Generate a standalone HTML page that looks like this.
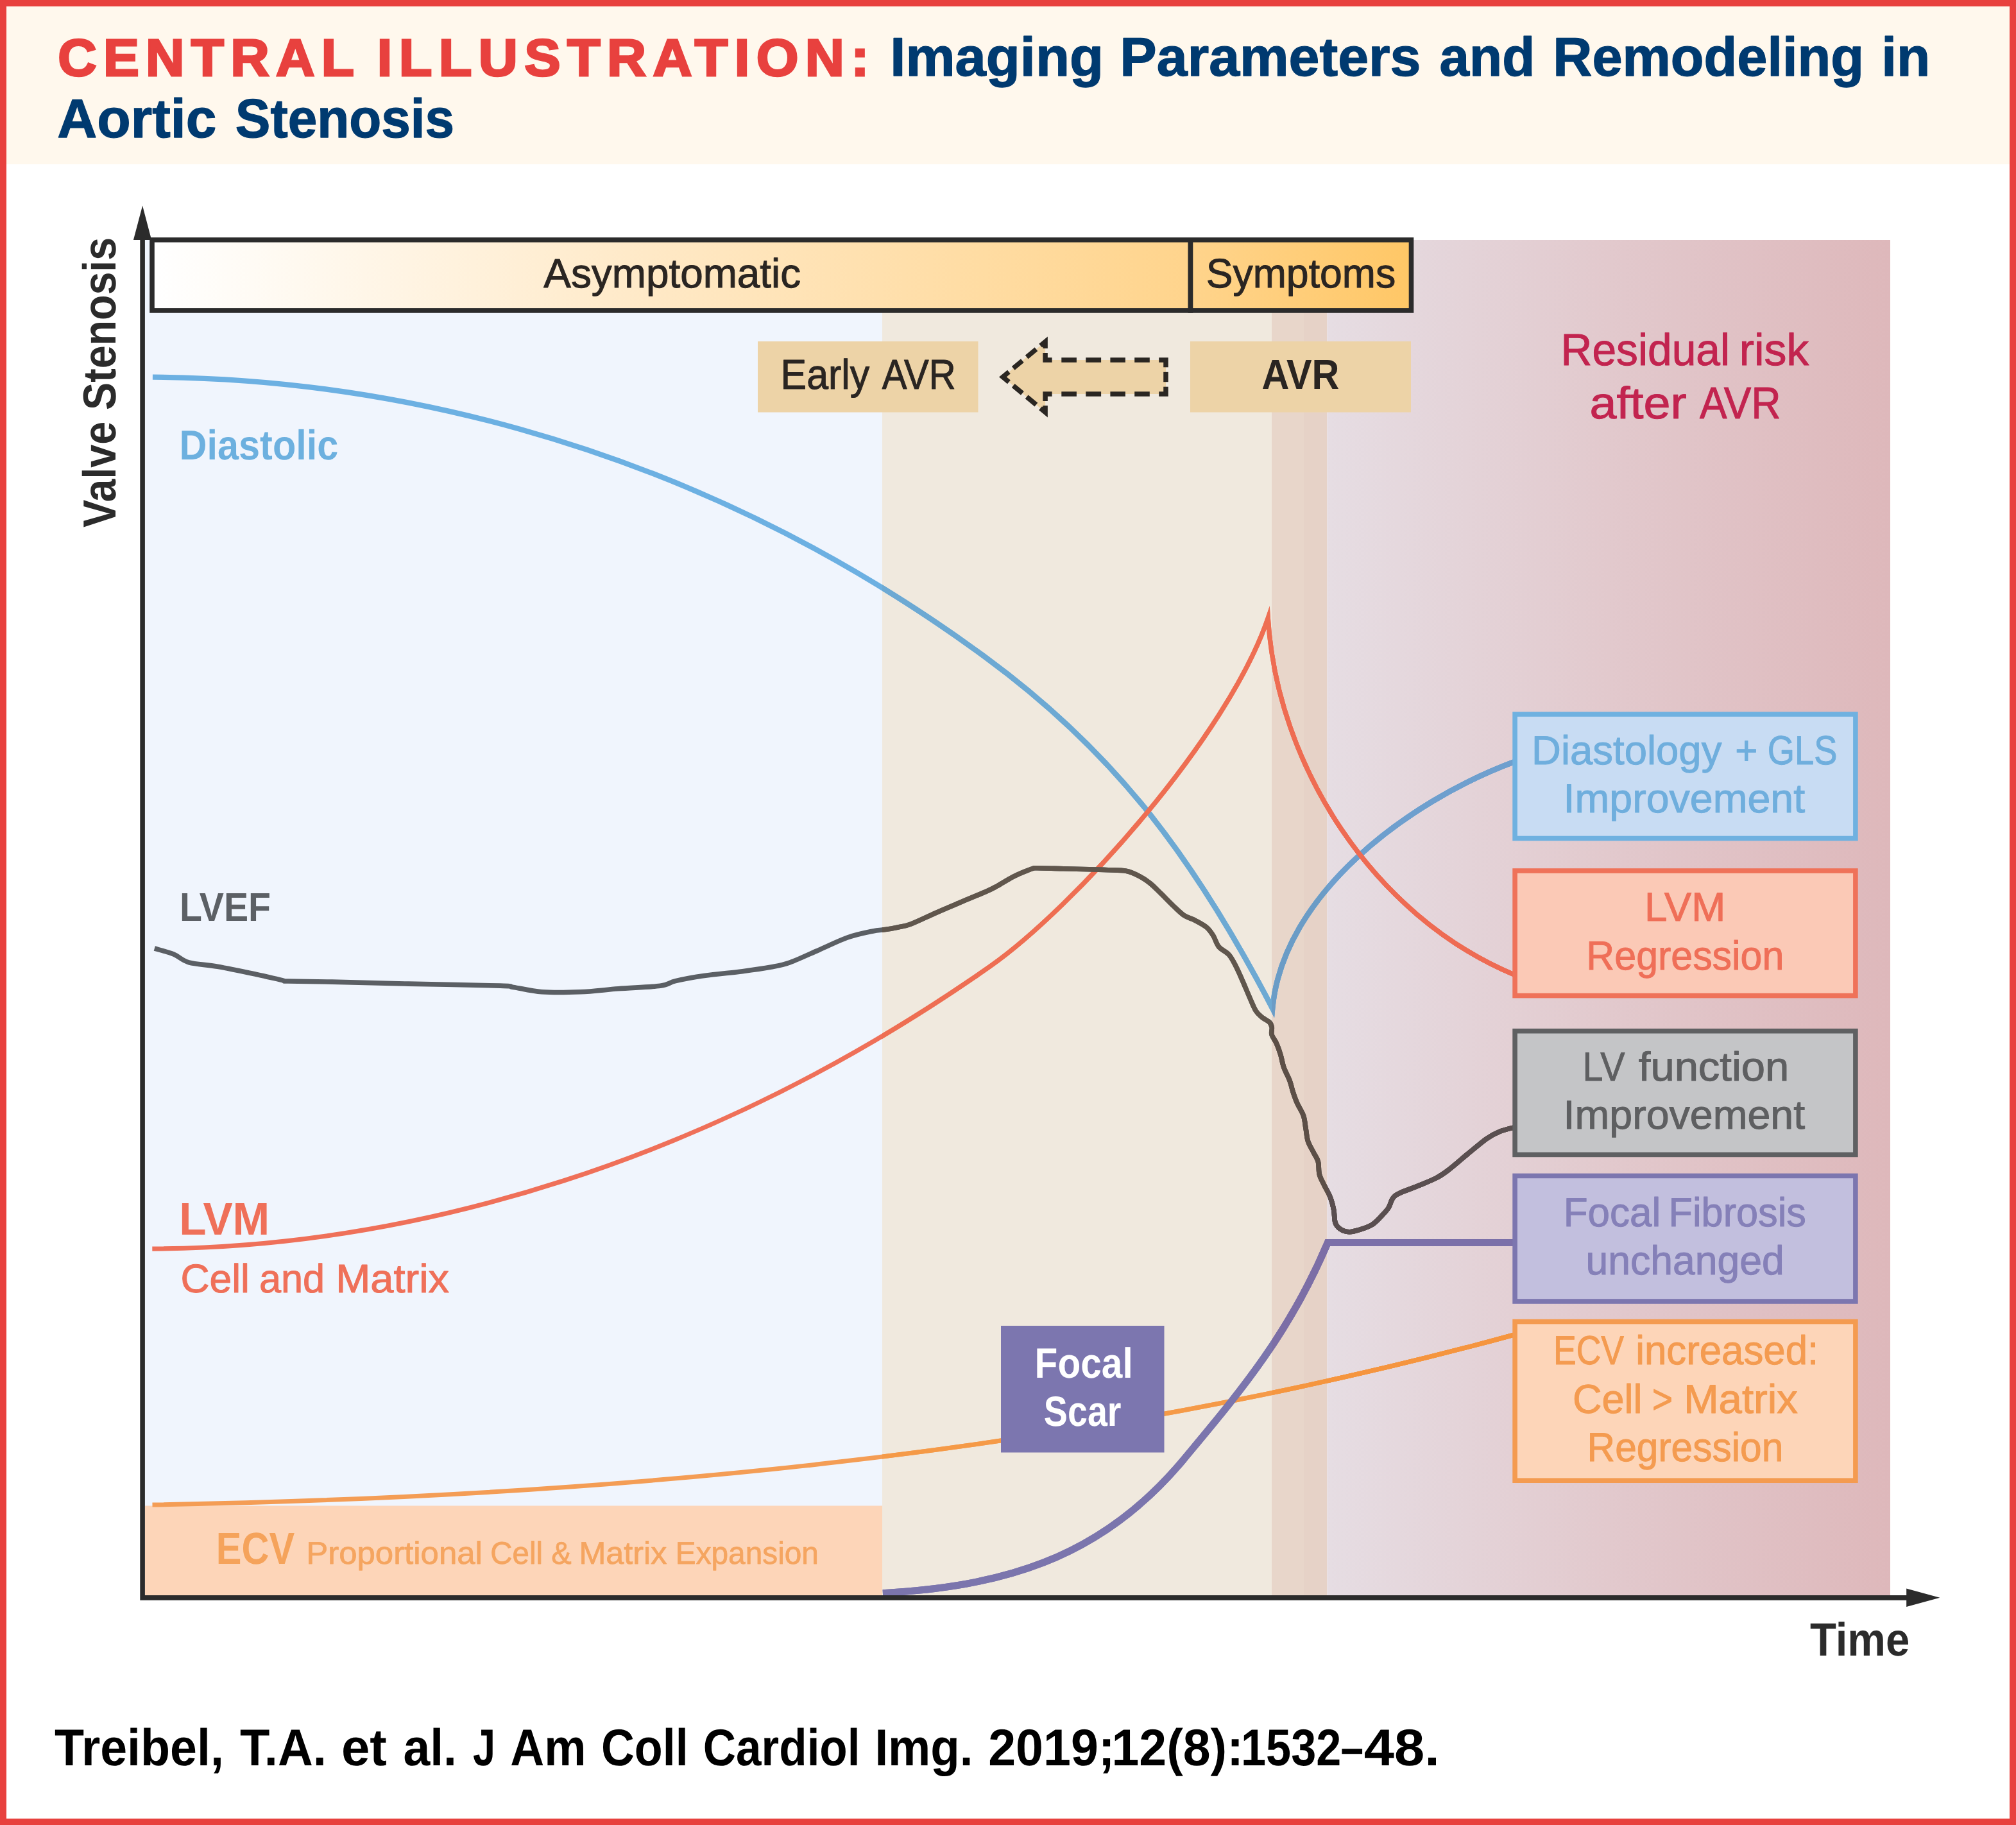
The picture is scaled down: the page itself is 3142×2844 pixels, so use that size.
<!DOCTYPE html>
<html><head><meta charset="utf-8"><title>Central Illustration: Imaging Parameters and Remodeling in Aortic Stenosis</title>
<style>html,body{margin:0;padding:0;background:#fff}svg{display:block}text{font-family:"Liberation Sans",Arial,sans-serif;white-space:pre;text-rendering:geometricPrecision}</style>
</head><body>
<svg width="3142" height="2844" viewBox="0 0 3142 2844">
<defs>
<linearGradient id="gAsym" x1="0" x2="1" y1="0" y2="0"><stop offset="0" stop-color="#ffffff"/><stop offset="0.12" stop-color="#fffaf2"/><stop offset="0.5" stop-color="#ffe8c4"/><stop offset="1" stop-color="#ffd48c"/></linearGradient>
<linearGradient id="gSym" x1="0" x2="1" y1="0" y2="0"><stop offset="0" stop-color="#ffd48c"/><stop offset="1" stop-color="#ffc766"/></linearGradient>
<linearGradient id="gPink" x1="0" x2="1" y1="0" y2="0"><stop offset="0" stop-color="#e6dde3"/><stop offset="0.5" stop-color="#e2c9cd"/><stop offset="1" stop-color="#deb8bb"/></linearGradient>
<clipPath id="cA"><rect x="0" y="0" width="3142" height="2844"/></clipPath>
<clipPath id="cB"><rect x="1375" y="0" width="1800" height="2844"/></clipPath>
<clipPath id="cC"><rect x="1982" y="0" width="1200" height="2844"/></clipPath>
<clipPath id="cD"><rect x="2068.5" y="0" width="1100" height="2844"/></clipPath>
</defs>
<rect x="0" y="0" width="3142" height="2844" fill="#ffffff"/>
<rect x="10" y="10" width="3122" height="246" fill="#fff8ed"/>
<rect x="226" y="374" width="1149" height="2112" fill="#f0f5fd"/>
<rect x="1375" y="374" width="607" height="2112" fill="#f0e9de"/>
<rect x="1982" y="374" width="50" height="2112" fill="#e8d6ca"/>
<rect x="2032" y="374" width="36.5" height="2112" fill="#e6d2c7"/>
<rect x="2068.5" y="374" width="877.5" height="2112" fill="url(#gPink)"/>
<rect x="226" y="2346.5" width="1149" height="140" fill="#fdd5b8"/>
<defs><path id="pEcv" d="M237.5,2345.0 C941.8,2332.8 1674.7,2267.7 2360.0,2080.0" fill="none" stroke-width="7"/></defs>
<use href="#pEcv" stroke="#f49d55" clip-path="url(#cA)"/>
<use href="#pEcv" stroke="#f59a47" clip-path="url(#cB)"/>
<use href="#pEcv" stroke="#f5963f" clip-path="url(#cC)"/>
<use href="#pEcv" stroke="#f5953f" clip-path="url(#cD)"/>
<defs><path id="pDia" d="M237.9,587.6 C536.8,589.8 1034.9,656.7 1536.0,1024.3 C1732.0,1168.1 1856.7,1328.5 1983.2,1571.5 C1999.7,1393.8 2193.5,1249.2 2360.0,1187.2" fill="none" stroke-width="8.3" stroke-linejoin="miter" stroke-miterlimit="6"/></defs>
<use href="#pDia" stroke="#6cb0e2" clip-path="url(#cA)"/>
<use href="#pDia" stroke="#6da9d3" clip-path="url(#cB)"/>
<use href="#pDia" stroke="#6b9cc6" clip-path="url(#cC)"/>
<use href="#pDia" stroke="#6e9fce" clip-path="url(#cD)"/>
<defs><path id="pLvm" d="M237.3,1946.1 C642.5,1943.7 1106.3,1812.3 1543.1,1505.9 C1673.0,1414.8 1912.9,1148.9 1976.3,963.0 C1989.9,1192.2 2140.1,1427.3 2360.0,1519.0" fill="none" stroke-width="7.2" stroke-linejoin="miter" stroke-miterlimit="6"/></defs>
<use href="#pLvm" stroke="#ef7059" clip-path="url(#cA)"/>
<use href="#pLvm" stroke="#ee6e52" clip-path="url(#cB)"/>
<use href="#pLvm" stroke="#ee6c52" clip-path="url(#cC)"/>
<use href="#pLvm" stroke="#ee6b53" clip-path="url(#cD)"/>
<defs><path id="pLvef" d="M240.8,1478.0 C245.8,1479.5 261.7,1483.4 270.6,1487.0 C279.5,1490.6 283.0,1496.6 294.4,1499.8 C305.8,1503.0 321.6,1503.2 339.0,1506.3 C356.4,1509.4 381.8,1514.7 398.6,1518.2 C415.4,1521.8 431.6,1525.8 440.0,1527.6 C448.4,1529.4 436.1,1528.6 449.0,1529.0 C461.9,1529.4 486.3,1529.4 517.6,1530.1 C548.9,1530.8 593.1,1532.1 636.7,1533.1 C680.4,1534.1 752.3,1535.2 779.5,1536.1 C806.7,1537.0 789.1,1536.8 800.0,1538.4 C810.9,1540.0 827.2,1544.6 844.6,1545.8 C862.0,1547.0 884.4,1546.6 904.2,1545.8 C924.1,1545.0 942.9,1542.4 963.7,1540.8 C984.5,1539.2 1014.3,1538.3 1029.2,1536.3 C1044.1,1534.3 1041.6,1531.2 1053.0,1528.6 C1064.4,1526.0 1080.2,1523.0 1097.6,1520.5 C1114.9,1518.0 1139.7,1515.9 1157.1,1513.7 C1174.5,1511.5 1189.4,1509.4 1201.8,1507.1 C1214.2,1504.8 1219.1,1504.2 1231.5,1499.7 C1243.9,1495.2 1261.3,1486.9 1276.2,1480.4 C1291.1,1474.0 1306.9,1465.9 1320.8,1461.0 C1334.7,1456.1 1349.6,1453.3 1359.5,1451.2 C1369.4,1449.1 1373.3,1449.6 1380.0,1448.6 C1386.7,1447.6 1393.2,1446.4 1399.8,1445.0 C1406.4,1443.6 1409.8,1443.8 1419.7,1440.0 C1429.6,1436.2 1446.2,1428.0 1459.4,1422.2 C1472.6,1416.4 1485.8,1410.9 1499.0,1405.3 C1512.2,1399.7 1529.4,1392.6 1538.7,1388.5 C1548.0,1384.4 1548.0,1384.2 1554.6,1380.5 C1561.2,1376.8 1571.1,1370.4 1578.4,1366.6 C1585.7,1362.8 1593.0,1359.9 1598.3,1357.7 C1603.6,1355.5 1607.0,1354.2 1610.0,1353.4 C1613.0,1352.6 1608.0,1352.8 1616.0,1352.8 C1624.0,1352.8 1644.2,1353.4 1657.8,1353.7 C1671.4,1354.0 1685.9,1354.4 1697.5,1354.7 C1709.1,1355.0 1717.6,1355.3 1727.2,1355.7 C1736.8,1356.1 1747.0,1355.7 1755.0,1357.3 C1763.0,1358.9 1768.8,1361.9 1775.1,1365.1 C1781.4,1368.3 1786.8,1371.8 1792.6,1376.5 C1798.4,1381.2 1804.2,1387.4 1810.1,1393.1 C1815.9,1398.8 1821.8,1405.2 1827.7,1410.7 C1833.6,1416.2 1839.4,1422.5 1845.2,1426.4 C1851.0,1430.3 1856.9,1431.2 1862.7,1434.3 C1868.5,1437.4 1875.6,1441.0 1880.3,1444.9 C1885.0,1448.9 1887.6,1452.9 1890.8,1458.0 C1894.0,1463.1 1895.5,1470.5 1899.6,1475.5 C1903.7,1480.5 1910.9,1482.8 1915.3,1487.8 C1919.7,1492.8 1922.4,1498.6 1925.9,1505.3 C1929.4,1512.0 1932.9,1520.2 1936.4,1528.1 C1939.9,1536.0 1943.4,1544.8 1946.9,1552.7 C1950.4,1560.6 1953.9,1570.0 1957.4,1575.5 C1960.9,1581.0 1964.4,1583.1 1967.9,1586.0 C1971.4,1588.9 1976.1,1590.5 1978.5,1593.0 C1980.9,1595.5 1981.6,1597.8 1982.2,1601.0 C1982.8,1604.2 1980.8,1608.3 1982.0,1612.5 C1983.2,1616.7 1987.1,1620.7 1989.4,1625.9 C1991.7,1631.1 1993.9,1637.3 1995.8,1643.5 C1997.7,1649.7 1998.5,1656.7 2000.8,1663.3 C2003.1,1669.9 2007.2,1676.6 2009.7,1683.2 C2012.2,1689.8 2013.6,1697.0 2015.6,1703.0 C2017.6,1709.0 2018.9,1713.0 2021.6,1718.9 C2024.2,1724.9 2029.2,1732.1 2031.5,1738.7 C2033.8,1745.3 2033.9,1752.0 2035.1,1758.6 C2036.3,1765.2 2036.5,1772.1 2038.5,1778.4 C2040.5,1784.7 2044.8,1791.0 2047.4,1796.3 C2050.0,1801.6 2052.8,1804.6 2054.3,1810.2 C2055.8,1815.8 2054.8,1824.0 2056.3,1830.0 C2057.8,1836.0 2060.5,1840.0 2063.3,1845.9 C2066.1,1851.9 2070.6,1859.1 2073.2,1865.7 C2075.8,1872.3 2077.4,1879.0 2078.7,1885.6 C2080.0,1892.2 2079.4,1900.5 2081.1,1905.4 C2082.8,1910.4 2085.4,1912.9 2089.0,1915.3 C2092.6,1917.7 2097.9,1919.5 2102.9,1919.7 C2107.9,1919.9 2112.8,1918.2 2118.8,1916.3 C2124.8,1914.4 2132.8,1912.2 2138.7,1908.4 C2144.6,1904.6 2150.2,1898.0 2154.5,1893.5 C2158.8,1889.0 2161.8,1885.9 2164.4,1881.6 C2167.1,1877.3 2167.8,1871.3 2170.4,1867.7 C2173.1,1864.1 2174.0,1863.0 2180.3,1859.8 C2186.6,1856.6 2198.5,1852.8 2208.1,1848.8 C2217.7,1844.8 2229.6,1840.3 2237.9,1836.0 C2246.2,1831.7 2249.4,1829.4 2257.7,1823.1 C2266.0,1816.8 2277.6,1806.4 2287.5,1798.3 C2297.4,1790.2 2308.9,1780.2 2317.2,1774.4 C2325.5,1768.6 2330.0,1766.4 2337.1,1763.5 C2344.2,1760.6 2356.2,1757.9 2360.0,1756.8" fill="none" stroke-width="7.6" stroke-linejoin="round"/></defs>
<use href="#pLvef" stroke="#5b5f64" clip-path="url(#cA)"/>
<use href="#pLvef" stroke="#60564c" clip-path="url(#cB)"/>
<use href="#pLvef" stroke="#5c4f47" clip-path="url(#cC)"/>
<use href="#pLvef" stroke="#5a4f50" clip-path="url(#cD)"/>
<defs><path id="pPur" d="M1375.9,2482.6 C1552.9,2472.3 1711.1,2435.0 1844.5,2274.7 C1926.4,2176.2 2007.7,2082.6 2069.3,1936.4 H2360" fill="none" stroke-width="10.9" stroke-linejoin="miter"/></defs>
<use href="#pPur" stroke="#7b76ae" clip-path="url(#cA)"/>
<use href="#pPur" stroke="#7b75ad" clip-path="url(#cB)"/>
<use href="#pPur" stroke="#7c6ea6" clip-path="url(#cC)"/>
<use href="#pPur" stroke="#7b70a9" clip-path="url(#cD)"/>
<rect x="237" y="373.8" width="1618.5" height="110.1" fill="url(#gAsym)" stroke="#2b2b2b" stroke-width="7.6"/>
<rect x="1855.5" y="373.8" width="344" height="110.1" fill="url(#gSym)" stroke="#2b2b2b" stroke-width="7.6"/>
<text x="847.3" y="447.5" font-size="64.0" fill="#2a2522" stroke="#2a2522" stroke-width="1.00" stroke-linejoin="round" stroke-miterlimit="2.5" textLength="400.9" lengthAdjust="spacingAndGlyphs">Asymptomatic</text>
<text x="1879.7" y="447.5" font-size="64.0" fill="#2a2522" stroke="#2a2522" stroke-width="1.00" stroke-linejoin="round" stroke-miterlimit="2.5" textLength="295.6" lengthAdjust="spacingAndGlyphs">Symptoms</text>
<rect x="1181" y="532" width="343.5" height="110.5" fill="#edd3a7"/>
<rect x="1855" y="532" width="344" height="110.5" fill="#edd3a7"/>
<text x="1216.6" y="606.0" font-size="65.4" fill="#2a2522" stroke="#2a2522" stroke-width="1.00" stroke-linejoin="round" stroke-miterlimit="2.5" textLength="138.6" lengthAdjust="spacingAndGlyphs">Early</text>
<text x="1374.7" y="606.0" font-size="65.4" fill="#2a2522" stroke="#2a2522" stroke-width="1.00" stroke-linejoin="round" stroke-miterlimit="2.5" textLength="115.1" lengthAdjust="spacingAndGlyphs">AVR</text>
<text x="1966.5" y="606.0" font-size="65.4" font-weight="bold" fill="#2a2522" textLength="120.8" lengthAdjust="spacingAndGlyphs">AVR</text>
<mask id="mArrow" maskUnits="userSpaceOnUse" x="1540" y="510" width="300" height="160"><rect x="1540" y="510" width="300" height="160" fill="#fff"/><line x1="1791.8" y1="561.0" x2="1806.2" y2="561.0" stroke="#000" stroke-width="14"/><line x1="1791.8" y1="613.9" x2="1806.2" y2="613.9" stroke="#000" stroke-width="14"/><line x1="1753.9" y1="561.0" x2="1768.2" y2="561.0" stroke="#000" stroke-width="14"/><line x1="1753.9" y1="613.9" x2="1768.2" y2="613.9" stroke="#000" stroke-width="14"/><line x1="1716.1" y1="561.0" x2="1730.4" y2="561.0" stroke="#000" stroke-width="14"/><line x1="1716.1" y1="613.9" x2="1730.4" y2="613.9" stroke="#000" stroke-width="14"/><line x1="1677.9" y1="561.0" x2="1692.3" y2="561.0" stroke="#000" stroke-width="14"/><line x1="1677.9" y1="613.9" x2="1692.3" y2="613.9" stroke="#000" stroke-width="14"/><line x1="1639.6" y1="561.0" x2="1654.3" y2="561.0" stroke="#000" stroke-width="14"/><line x1="1639.6" y1="613.9" x2="1654.3" y2="613.9" stroke="#000" stroke-width="14"/><line x1="1817.0" y1="572.3" x2="1817.0" y2="579.8" stroke="#000" stroke-width="14"/><line x1="1817.0" y1="595.2" x2="1817.0" y2="602.7" stroke="#000" stroke-width="14"/><line x1="1629.1" y1="542.9" x2="1629.1" y2="550.0" stroke="#000" stroke-width="14"/><line x1="1629.1" y1="625.0" x2="1629.1" y2="632.1" stroke="#000" stroke-width="14"/><line x1="1621.6" y1="538.7" x2="1614.9" y2="544.2" stroke="#000" stroke-width="14"/><line x1="1600.2" y1="556.5" x2="1593.4" y2="562.1" stroke="#000" stroke-width="14"/><line x1="1579.2" y1="573.9" x2="1572.4" y2="579.5" stroke="#000" stroke-width="14"/><line x1="1621.6" y1="636.2" x2="1614.9" y2="630.7" stroke="#000" stroke-width="14"/><line x1="1600.2" y1="618.4" x2="1593.4" y2="612.8" stroke="#000" stroke-width="14"/><line x1="1579.2" y1="601.0" x2="1572.4" y2="595.4" stroke="#000" stroke-width="14"/></mask>
<path d="M1817,561 H1629.1 V532.4 L1562.9,587.45 L1629.1,642.5 V613.9 H1817 Z" fill="#edd3a7"/>
<path d="M1817,561 H1629.1 V532.4 L1562.9,587.45 L1629.1,642.5 V613.9 H1817 Z" fill="none" stroke="#2a2622" stroke-width="7.5" stroke-linejoin="miter" mask="url(#mArrow)"/>
<text x="2432.5" y="568.7" font-size="69.8" fill="#c2244f" stroke="#c2244f" stroke-width="1.00" stroke-linejoin="round" stroke-miterlimit="2.5" textLength="263.5" lengthAdjust="spacingAndGlyphs">Residual</text>
<text x="2710.7" y="568.7" font-size="69.8" fill="#c2244f" stroke="#c2244f" stroke-width="1.00" stroke-linejoin="round" stroke-miterlimit="2.5" textLength="108.6" lengthAdjust="spacingAndGlyphs">risk</text>
<text x="2477.6" y="651.5" font-size="69.8" fill="#c2244f" stroke="#c2244f" stroke-width="1.00" stroke-linejoin="round" stroke-miterlimit="2.5" textLength="151.2" lengthAdjust="spacingAndGlyphs">after</text>
<text x="2649.0" y="651.5" font-size="69.8" fill="#c2244f" stroke="#c2244f" stroke-width="1.00" stroke-linejoin="round" stroke-miterlimit="2.5" textLength="126.5" lengthAdjust="spacingAndGlyphs">AVR</text>
<text x="279.5" y="715.8" font-size="65.1" font-weight="bold" fill="#6cb0df" textLength="247.8" lengthAdjust="spacingAndGlyphs">Diastolic</text>
<text x="280.1" y="1435.0" font-size="62.5" font-weight="bold" fill="#5c6065" textLength="141.9" lengthAdjust="spacingAndGlyphs">LVEF</text>
<text x="279.3" y="1923.8" font-size="71.2" font-weight="bold" fill="#ef7059" textLength="141.0" lengthAdjust="spacingAndGlyphs">LVM</text>
<text x="281.4" y="2013.6" font-size="62.5" fill="#ef7059" stroke="#ef7059" stroke-width="1.00" stroke-linejoin="round" stroke-miterlimit="2.5" textLength="107.6" lengthAdjust="spacingAndGlyphs">Cell</text>
<text x="403.9" y="2013.6" font-size="62.5" fill="#ef7059" stroke="#ef7059" stroke-width="1.00" stroke-linejoin="round" stroke-miterlimit="2.5" textLength="102.2" lengthAdjust="spacingAndGlyphs">and</text>
<text x="523.2" y="2013.6" font-size="62.5" fill="#ef7059" stroke="#ef7059" stroke-width="1.00" stroke-linejoin="round" stroke-miterlimit="2.5" textLength="176.9" lengthAdjust="spacingAndGlyphs">Matrix</text>
<text x="336.7" y="2436.9" font-size="69.8" font-weight="bold" fill="#f5a35b" textLength="122.4" lengthAdjust="spacingAndGlyphs">ECV</text>
<text x="477.2" y="2436.9" font-size="49.0" fill="#f5a560" stroke="#f5a560" stroke-width="0.80" stroke-linejoin="round" stroke-miterlimit="2.5" textLength="274.7" lengthAdjust="spacingAndGlyphs">Proportional</text>
<text x="764.3" y="2436.9" font-size="49.0" fill="#f5a560" stroke="#f5a560" stroke-width="0.80" stroke-linejoin="round" stroke-miterlimit="2.5" textLength="81.7" lengthAdjust="spacingAndGlyphs">Cell</text>
<text x="859.2" y="2436.9" font-size="49.0" fill="#f5a560" stroke="#f5a560" stroke-width="0.80" stroke-linejoin="round" stroke-miterlimit="2.5" textLength="31.4" lengthAdjust="spacingAndGlyphs">&amp;</text>
<text x="902.5" y="2436.9" font-size="49.0" fill="#f5a560" stroke="#f5a560" stroke-width="0.80" stroke-linejoin="round" stroke-miterlimit="2.5" textLength="136.8" lengthAdjust="spacingAndGlyphs">Matrix</text>
<text x="1052.8" y="2436.9" font-size="49.0" fill="#f5a560" stroke="#f5a560" stroke-width="0.80" stroke-linejoin="round" stroke-miterlimit="2.5" textLength="223.1" lengthAdjust="spacingAndGlyphs">Expansion</text>
<rect x="1560" y="2066" width="254.5" height="197.5" fill="#7c76af"/>
<text x="1612.6" y="2146.7" font-size="66.0" font-weight="bold" fill="#ffffff" textLength="153.1" lengthAdjust="spacingAndGlyphs">Focal</text>
<text x="1626.8" y="2221.9" font-size="66.0" font-weight="bold" fill="#ffffff" textLength="120.7" lengthAdjust="spacingAndGlyphs">Scar</text>
<rect x="2361.1" y="1113.0" width="530.8" height="193.5" fill="#c8dcf3" stroke="#6fb1e0" stroke-width="7.6"/>
<rect x="2361.1" y="1357.0" width="530.8" height="194.6" fill="#fbc9b6" stroke="#ef7259" stroke-width="7.6"/>
<rect x="2361.1" y="1606.7" width="530.8" height="192.7" fill="#c4c5c7" stroke="#5f6062" stroke-width="7.6"/>
<rect x="2361.1" y="1832.4" width="530.8" height="195.6" fill="#c2bfde" stroke="#7c76af" stroke-width="7.6"/>
<rect x="2361.1" y="2059.6" width="530.8" height="247.6" fill="#fdd5b8" stroke="#f49b50" stroke-width="7.6"/>
<text x="2387.1" y="1190.7" font-size="63.4" fill="#6faedd" stroke="#6faedd" stroke-width="1.00" stroke-linejoin="round" stroke-miterlimit="2.5" textLength="296.3" lengthAdjust="spacingAndGlyphs">Diastology</text>
<text x="2704.3" y="1190.7" font-size="63.4" fill="#6faedd" stroke="#6faedd" stroke-width="1.00" stroke-linejoin="round" stroke-miterlimit="2.5" textLength="35.2" lengthAdjust="spacingAndGlyphs">+</text>
<text x="2754.8" y="1190.7" font-size="63.4" fill="#6faedd" stroke="#6faedd" stroke-width="1.00" stroke-linejoin="round" stroke-miterlimit="2.5" textLength="108.6" lengthAdjust="spacingAndGlyphs">GLS</text>
<text x="2436.6" y="1266.1" font-size="63.4" fill="#6faedd" stroke="#6faedd" stroke-width="1.00" stroke-linejoin="round" stroke-miterlimit="2.5" textLength="376.6" lengthAdjust="spacingAndGlyphs">Improvement</text>
<text x="2563.0" y="1435.3" font-size="63.4" fill="#ef6f58" stroke="#ef6f58" stroke-width="1.00" stroke-linejoin="round" stroke-miterlimit="2.5" textLength="126.3" lengthAdjust="spacingAndGlyphs">LVM</text>
<text x="2472.3" y="1510.7" font-size="63.4" fill="#ef6f58" stroke="#ef6f58" stroke-width="1.00" stroke-linejoin="round" stroke-miterlimit="2.5" textLength="308.0" lengthAdjust="spacingAndGlyphs">Regression</text>
<text x="2466.6" y="1683.5" font-size="63.4" fill="#5e5f61" stroke="#5e5f61" stroke-width="1.00" stroke-linejoin="round" stroke-miterlimit="2.5" textLength="66.0" lengthAdjust="spacingAndGlyphs">LV</text>
<text x="2553.8" y="1683.5" font-size="63.4" fill="#5e5f61" stroke="#5e5f61" stroke-width="1.00" stroke-linejoin="round" stroke-miterlimit="2.5" textLength="234.5" lengthAdjust="spacingAndGlyphs">function</text>
<text x="2436.6" y="1759.2" font-size="63.4" fill="#5e5f61" stroke="#5e5f61" stroke-width="1.00" stroke-linejoin="round" stroke-miterlimit="2.5" textLength="376.6" lengthAdjust="spacingAndGlyphs">Improvement</text>
<text x="2436.7" y="1910.8" font-size="63.4" fill="#8580b8" stroke="#8580b8" stroke-width="1.00" stroke-linejoin="round" stroke-miterlimit="2.5" textLength="151.5" lengthAdjust="spacingAndGlyphs">Focal</text>
<text x="2600.6" y="1910.8" font-size="63.4" fill="#8580b8" stroke="#8580b8" stroke-width="1.00" stroke-linejoin="round" stroke-miterlimit="2.5" textLength="214.3" lengthAdjust="spacingAndGlyphs">Fibrosis</text>
<text x="2471.6" y="1986.4" font-size="63.4" fill="#8580b8" stroke="#8580b8" stroke-width="1.00" stroke-linejoin="round" stroke-miterlimit="2.5" textLength="309.2" lengthAdjust="spacingAndGlyphs">unchanged</text>
<text x="2420.9" y="2126.3" font-size="63.4" fill="#f49b50" stroke="#f49b50" stroke-width="1.00" stroke-linejoin="round" stroke-miterlimit="2.5" textLength="110.2" lengthAdjust="spacingAndGlyphs">ECV</text>
<text x="2549.2" y="2126.3" font-size="63.4" fill="#f49b50" stroke="#f49b50" stroke-width="1.00" stroke-linejoin="round" stroke-miterlimit="2.5" textLength="285.0" lengthAdjust="spacingAndGlyphs">increased:</text>
<text x="2450.9" y="2201.7" font-size="63.4" fill="#f49b50" stroke="#f49b50" stroke-width="1.00" stroke-linejoin="round" stroke-miterlimit="2.5" textLength="108.6" lengthAdjust="spacingAndGlyphs">Cell</text>
<text x="2575.0" y="2201.7" font-size="63.4" fill="#f49b50" stroke="#f49b50" stroke-width="1.00" stroke-linejoin="round" stroke-miterlimit="2.5" textLength="32.0" lengthAdjust="spacingAndGlyphs">&gt;</text>
<text x="2624.2" y="2201.7" font-size="63.4" fill="#f49b50" stroke="#f49b50" stroke-width="1.00" stroke-linejoin="round" stroke-miterlimit="2.5" textLength="177.8" lengthAdjust="spacingAndGlyphs">Matrix</text>
<text x="2473.6" y="2277.3" font-size="63.4" fill="#f49b50" stroke="#f49b50" stroke-width="1.00" stroke-linejoin="round" stroke-miterlimit="2.5" textLength="305.7" lengthAdjust="spacingAndGlyphs">Regression</text>
<path d="M222.1,372 V2489.85 H2973" fill="none" stroke="#2b2b2b" stroke-width="7.6" stroke-linejoin="miter"/>
<path d="M222.1,320.5 L236.2,374 L207.9,374 Z" fill="#2b2b2b"/>
<path d="M3023.3,2489.8 L2971.2,2504 L2971.2,2475.4 Z" fill="#2b2b2b"/>
<text x="2820.9" y="2579.8" font-size="72.7" font-weight="bold" fill="#2b2b2b" textLength="155.3" lengthAdjust="spacingAndGlyphs">Time</text>
<g transform="translate(180,821.5) rotate(-90)">
<text x="-0.5" y="0.0" font-size="72.2" font-weight="bold" fill="#2b2b2b" textLength="452.2" lengthAdjust="spacingAndGlyphs">Valve Stenosis</text>
</g>
<text x="90.2" y="118.0" font-size="81.4" font-weight="bold" fill="#e8413e" stroke="#e8413e" stroke-width="3.00" stroke-linejoin="miter" stroke-miterlimit="2.5" letter-spacing="10.0" textLength="472.1" lengthAdjust="spacingAndGlyphs">CENTRAL</text>
<text x="587.8" y="118.0" font-size="81.4" font-weight="bold" fill="#e8413e" stroke="#e8413e" stroke-width="3.00" stroke-linejoin="miter" stroke-miterlimit="2.5" letter-spacing="10.0" textLength="777.1" lengthAdjust="spacingAndGlyphs">ILLUSTRATION:</text>
<text x="1387.3" y="118.4" font-size="85.2" font-weight="bold" fill="#003a70" stroke="#003a70" stroke-width="1.30" stroke-linejoin="round" stroke-miterlimit="2.5" textLength="332.6" lengthAdjust="spacingAndGlyphs">Imaging</text>
<text x="1745.3" y="118.4" font-size="85.2" font-weight="bold" fill="#003a70" stroke="#003a70" stroke-width="1.30" stroke-linejoin="round" stroke-miterlimit="2.5" textLength="469.2" lengthAdjust="spacingAndGlyphs">Parameters</text>
<text x="2243.6" y="118.4" font-size="85.2" font-weight="bold" fill="#003a70" stroke="#003a70" stroke-width="1.30" stroke-linejoin="round" stroke-miterlimit="2.5" textLength="148.7" lengthAdjust="spacingAndGlyphs">and</text>
<text x="2420.3" y="118.4" font-size="85.2" font-weight="bold" fill="#003a70" stroke="#003a70" stroke-width="1.30" stroke-linejoin="round" stroke-miterlimit="2.5" textLength="484.6" lengthAdjust="spacingAndGlyphs">Remodeling</text>
<text x="2932.2" y="118.4" font-size="85.2" font-weight="bold" fill="#003a70" stroke="#003a70" stroke-width="1.30" stroke-linejoin="round" stroke-miterlimit="2.5" textLength="76.0" lengthAdjust="spacingAndGlyphs">in</text>
<text x="89.3" y="214.4" font-size="85.2" font-weight="bold" fill="#003a70" stroke="#003a70" stroke-width="1.30" stroke-linejoin="round" stroke-miterlimit="2.5" textLength="248.1" lengthAdjust="spacingAndGlyphs">Aortic</text>
<text x="366.8" y="214.4" font-size="85.2" font-weight="bold" fill="#003a70" stroke="#003a70" stroke-width="1.30" stroke-linejoin="round" stroke-miterlimit="2.5" textLength="341.3" lengthAdjust="spacingAndGlyphs">Stenosis</text>
<text x="85.0" y="2751.0" font-size="80.7" font-weight="bold" fill="#000000" textLength="263.9" lengthAdjust="spacingAndGlyphs">Treibel,</text>
<text x="373.9" y="2751.0" font-size="80.7" font-weight="bold" fill="#000000" textLength="135.0" lengthAdjust="spacingAndGlyphs">T.A.</text>
<text x="531.9" y="2751.0" font-size="80.7" font-weight="bold" fill="#000000" textLength="70.9" lengthAdjust="spacingAndGlyphs">et</text>
<text x="628.4" y="2751.0" font-size="80.7" font-weight="bold" fill="#000000" textLength="83.5" lengthAdjust="spacingAndGlyphs">al.</text>
<text x="737.0" y="2751.0" font-size="80.7" font-weight="bold" fill="#000000" textLength="35.0" lengthAdjust="spacingAndGlyphs">J</text>
<text x="795.2" y="2751.0" font-size="80.7" font-weight="bold" fill="#000000" textLength="118.2" lengthAdjust="spacingAndGlyphs">Am</text>
<text x="936.9" y="2751.0" font-size="80.7" font-weight="bold" fill="#000000" textLength="135.8" lengthAdjust="spacingAndGlyphs">Coll</text>
<text x="1095.8" y="2751.0" font-size="80.7" font-weight="bold" fill="#000000" textLength="244.7" lengthAdjust="spacingAndGlyphs">Cardiol</text>
<text x="1363.4" y="2751.0" font-size="80.7" font-weight="bold" fill="#000000" textLength="153.0" lengthAdjust="spacingAndGlyphs">Img.</text>
<text x="1540.2" y="2751.0" font-size="80.7" font-weight="bold" fill="#000000" textLength="197.3" lengthAdjust="spacingAndGlyphs">2019;</text>
<text x="1732.5" y="2751.0" font-size="80.7" font-weight="bold" fill="#000000" textLength="205.4" lengthAdjust="spacingAndGlyphs">12(8):</text>
<text x="1934.1" y="2751.0" font-size="80.7" font-weight="bold" fill="#000000" textLength="156.1" lengthAdjust="spacingAndGlyphs">1532</text>
<text x="2089.4" y="2751.0" font-size="80.7" font-weight="bold" fill="#000000" textLength="35.6" lengthAdjust="spacingAndGlyphs">–</text>
<text x="2125.7" y="2751.0" font-size="80.7" font-weight="bold" fill="#000000" textLength="118.1" lengthAdjust="spacingAndGlyphs">48.</text>
<path d="M0,0 H3142 V2844 H0 Z M10,10 V2834 H3132 V10 Z" fill="#e8413e" fill-rule="evenodd"/>
</svg>
</body></html>
